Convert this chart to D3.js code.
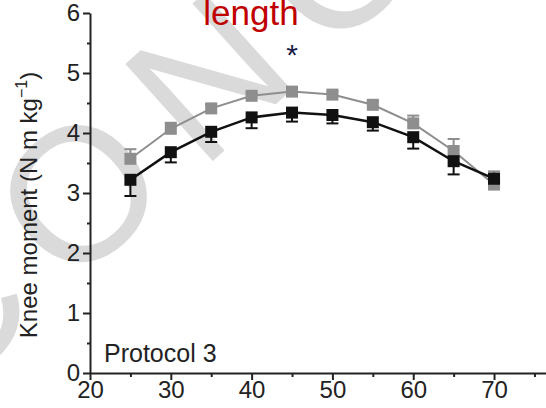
<!DOCTYPE html>
<html>
<head>
<meta charset="utf-8">
<script src="https://cdn.jsdelivr.net/npm/d3@7"></script>
<style>
  html, body { margin: 0; padding: 0; background: #fff; }
  svg { display: block; font-family: "Liberation Sans", Arial, sans-serif; }
</style>
</head>
<body>
<svg id="chart" width="546" height="408"></svg>
<script>
// Knee joint angle (deg) at which the moment was measured
const kneeAngles = [25, 30, 35, 40, 45, 50, 55, 60, 65, 70];

// Dark series: mean knee moment and its (downward) error bar
const darkMeans = [3.22, 3.68, 4.02, 4.26, 4.34, 4.30, 4.18, 3.93, 3.53, 3.24];
const darkErrors = [0.27, 0.17, 0.17, 0.18, 0.15, 0.14, 0.14, 0.19, 0.22, 0.08];

// Light series: mean knee moment and its (upward) error bar
const lightMeans = [3.57, 4.07, 4.41, 4.62, 4.69, 4.64, 4.47, 4.16, 3.70, 3.14];
const lightErrors = [0.16, 0.10, 0.06, 0.05, 0.05, 0.05, 0.06, 0.13, 0.20, 0.22];

// Axis ticks
const xTickValues = [20, 30, 40, 50, 60, 70];
const xMinorTicks = [25, 35, 45, 55, 65, 75];
const yTickValues = [0, 1, 2, 3, 4, 5, 6];
const yMinorTicks = [0.5, 1.5, 2.5, 3.5, 4.5, 5.5];

// Texts
const titleText = "length";
const yAxisTitle = "Knee moment (N m kg";
const yAxisUnitExp = "\u22121";
const panelLabel = "Protocol 3";
const significanceAngle = 45;
const watermarkText = "CONCEPT";

const svg = d3.select("#chart");

const x = d3.scaleLinear().domain([20, 77]).range([90, 550.6]);
const y = d3.scaleLinear().domain([0, 6]).range([373, 13]);

// Background watermark
svg.append("text")
  .attr("transform", "translate(-58,405) rotate(-42)")
  .attr("font-size", 190)
  .attr("letter-spacing", 32)
  .attr("fill", "#dadada")
  .text(watermarkText);

// Title fragment
svg.append("text")
  .attr("x", 251).attr("y", 25)
  .attr("text-anchor", "middle")
  .attr("font-size", 35)
  .attr("fill", "#c00000")
  .text(titleText);

// Axes
const axisColor = "#222";
const yAxis = svg.append("g")
  .attr("transform", `translate(${x(20)},0)`)
  .call(d3.axisLeft(y).tickValues(yTickValues).tickSize(7).tickSizeOuter(0).tickPadding(3).tickFormat(d3.format("d")));
const yMinor = svg.append("g")
  .attr("transform", `translate(${x(20)},0)`)
  .call(d3.axisLeft(y).tickValues(yMinorTicks).tickSize(3).tickSizeOuter(0).tickFormat(""));
yMinor.select(".domain").remove();

const xAxis = svg.append("g")
  .attr("transform", `translate(0,${y(0)})`)
  .call(d3.axisBottom(x).tickValues(xTickValues).tickSize(7).tickSizeOuter(0).tickPadding(1).tickFormat(d3.format("d")));
const xMinor = svg.append("g")
  .attr("transform", `translate(0,${y(0)})`)
  .call(d3.axisBottom(x).tickValues(xMinorTicks).tickSize(4).tickSizeOuter(0).tickFormat(""));
xMinor.select(".domain").remove();

[yAxis, yMinor, xAxis, xMinor].forEach(g => {
  g.selectAll("path, line").attr("stroke", axisColor).attr("stroke-width", 2);
  g.selectAll("text").attr("font-size", 24).attr("fill", axisColor)
    .attr("font-family", "\"Liberation Sans\", Arial, sans-serif");
});

// Y axis title with superscript exponent
const yTitle = svg.append("text")
  .attr("transform", `translate(37,${(y(0) + y(6)) / 2 + 12}) rotate(-90)`)
  .attr("text-anchor", "middle")
  .attr("font-size", 24)
  .attr("fill", axisColor);
yTitle.append("tspan").text(yAxisTitle);
yTitle.append("tspan").attr("font-size", 16).attr("dy", -10).text(yAxisUnitExp);
yTitle.append("tspan").attr("dy", 10).text(")");

// Panel label
svg.append("text")
  .attr("x", 104).attr("y", 362)
  .attr("font-size", 25)
  .attr("fill", axisColor)
  .text(panelLabel);

// Series drawing
function drawSeries(means, errors, direction, color, lineWidth) {
  const pts = kneeAngles.map((a, i) => ({ a, m: means[i], e: errors[i] }));
  const g = svg.append("g");
  g.append("path")
    .datum(pts)
    .attr("fill", "none")
    .attr("stroke", color)
    .attr("stroke-width", lineWidth)
    .attr("d", d3.line().x(d => x(d.a)).y(d => y(d.m)));
  const capHalf = 6;
  g.selectAll(".err").data(pts).join("line")
    .attr("x1", d => x(d.a)).attr("x2", d => x(d.a))
    .attr("y1", d => y(d.m)).attr("y2", d => y(d.m + direction * d.e))
    .attr("stroke", color).attr("stroke-width", 2);
  g.selectAll(".cap").data(pts).join("line")
    .attr("x1", d => x(d.a) - capHalf).attr("x2", d => x(d.a) + capHalf)
    .attr("y1", d => y(d.m + direction * d.e)).attr("y2", d => y(d.m + direction * d.e))
    .attr("stroke", color).attr("stroke-width", 2);
  const side = 12;
  g.selectAll("rect").data(pts).join("rect")
    .attr("x", d => x(d.a) - side / 2)
    .attr("y", d => y(d.m) - side / 2)
    .attr("width", side).attr("height", side)
    .attr("fill", color);
}

drawSeries(lightMeans, lightErrors, 1, "#8e8e8e", 2);
drawSeries(darkMeans, darkErrors, -1, "#111", 2.5);

// Significance marker
svg.append("text")
  .attr("x", x(significanceAngle)).attr("y", 65)
  .attr("text-anchor", "middle")
  .attr("font-size", 30)
  .attr("fill", "#1c1c4a")
  .text("*");
</script>
</body>
</html>
